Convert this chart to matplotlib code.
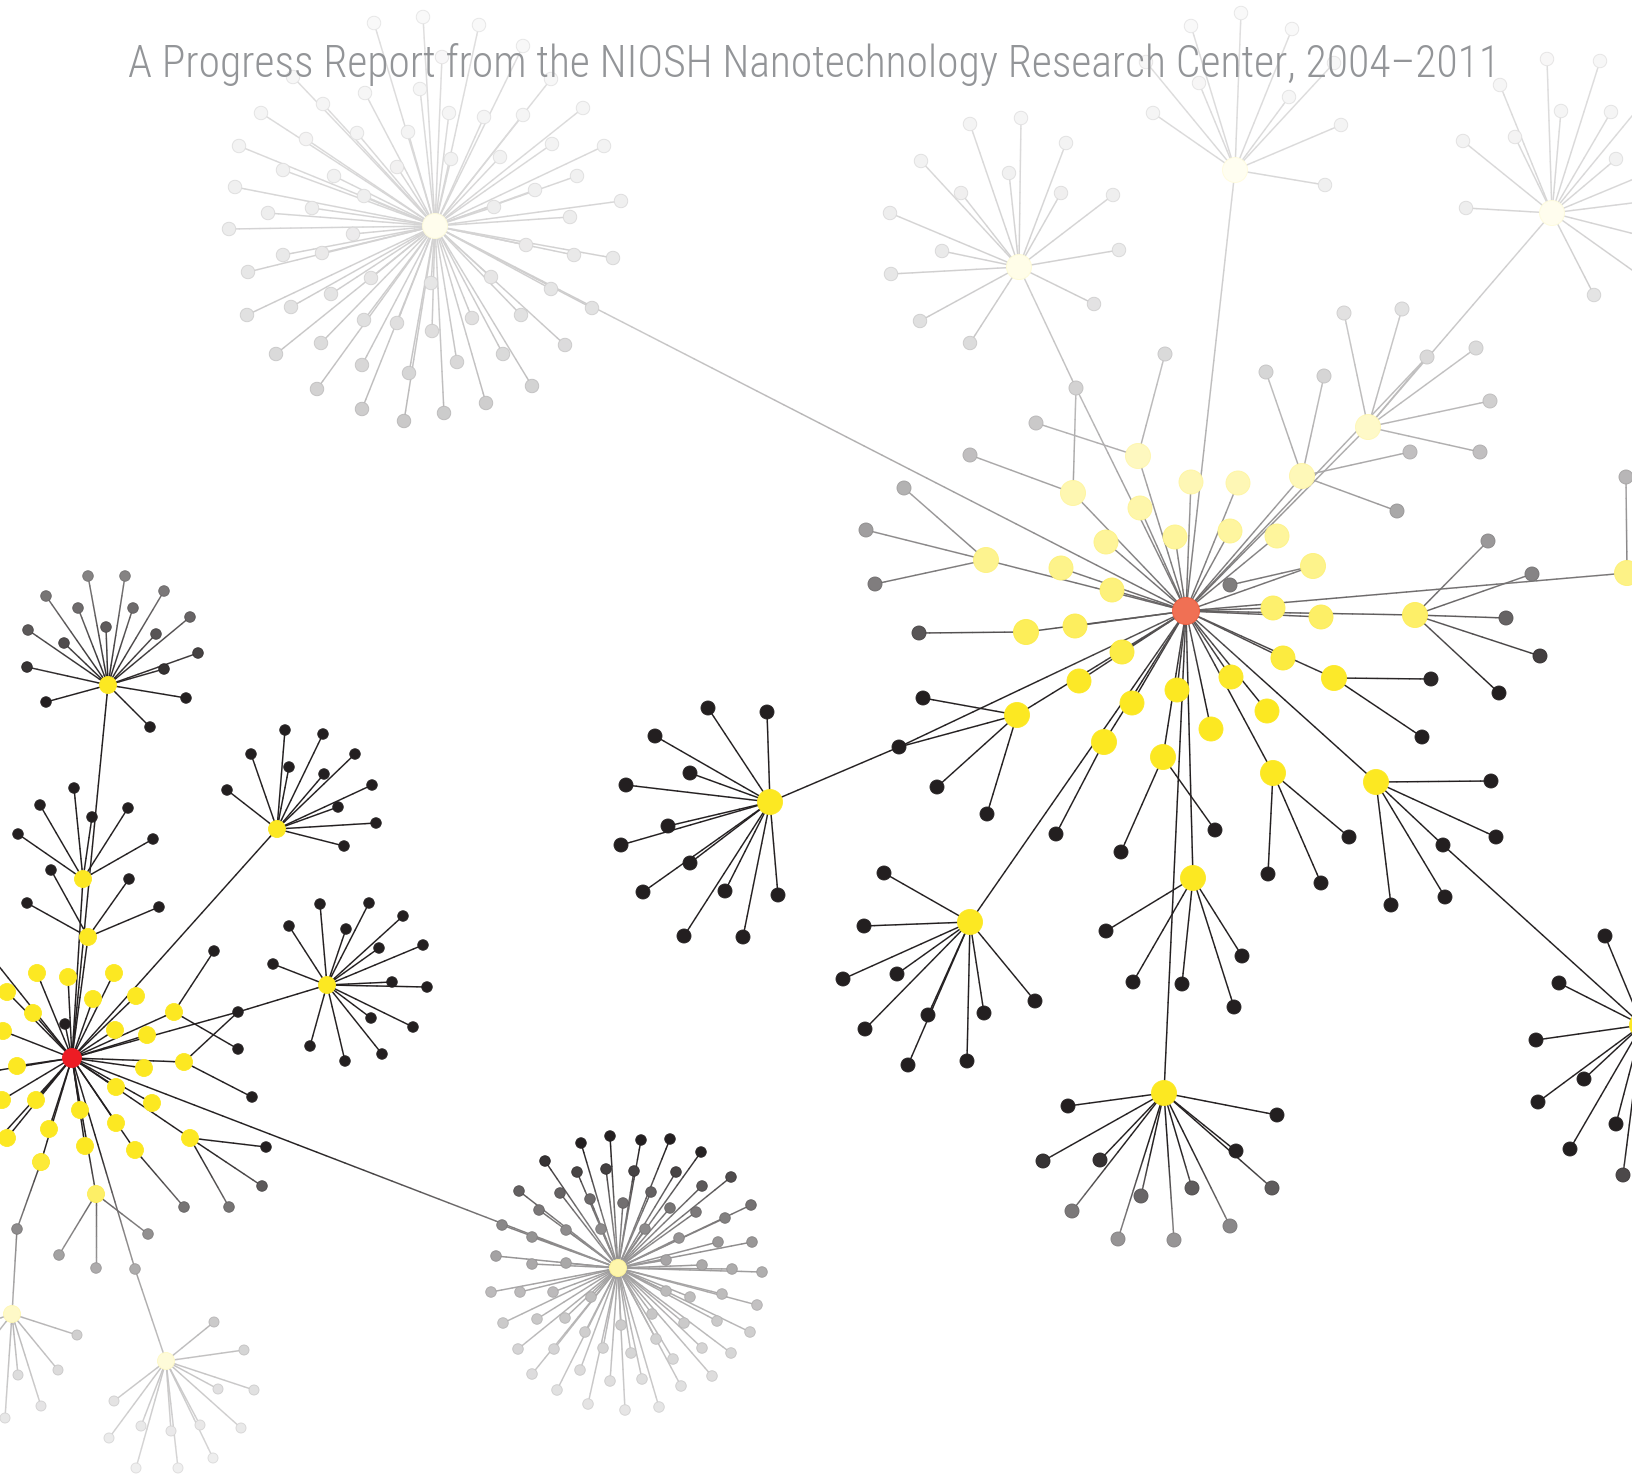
import numpy as np
import matplotlib
matplotlib.use("Agg")
import matplotlib.pyplot as plt
from matplotlib.collections import LineCollection
from matplotlib.colors import to_rgb

TITLE = "A Progress Report from the NIOSH Nanotechnology Research Center, 2004\u20132011"

# ---------------- data: node positions (px) ----------------
# top-left grey star
A_hub = (435, 226)
A_leaves = [(374,23),(423,17),(479,25),(523,46),(442,57),(551,79),(293,77),(365,93),(420,89),(323,104),
            (261,113),(449,113),(484,117),(523,115),(583,108),(357,133),(408,132),(306,139),(239,146),(552,144),
            (604,146),(451,159),(500,157),(397,167),(283,170),(334,176),(577,176),(235,187),(364,196),(535,190),
            (312,208),(494,207),(621,201),(268,213),(570,217),(229,229),(353,234),(283,255),(322,253),(526,245),
            (574,255),(613,258),(248,272),(371,278),(491,277),(431,283),(551,289),(592,308),(331,294),(291,307),
            (247,315),(521,315),(364,320),(397,323),(472,318),(432,331),(321,343),(565,345),(276,354),(503,354),
            (362,365),(457,362),(409,373),(532,386),(317,389),(486,403),(362,409),(444,413),(404,421)]
# top-middle star
B_hub = (1019, 267)
B_leaves = [(970,124),(1021,118),(1066,143),(921,161),(1009,173),(961,193),(1061,193),(1113,195),(890,213),
            (942,251),(1119,250),(891,274),(1094,304),(920,321),(970,343)]
# star behind the title
C_hub = (1235, 170)
C_leaves = [(1241,13),(1191,26),(1292,29),(1146,62),(1334,63),(1199,83),(1289,97),(1153,113),(1341,125),(1325,185)]
# top-right star (partly off the page)
D_hub = (1552, 213)
D_leaves = [(1547,59),(1600,61),(1500,85),(1561,111),(1611,112),(1515,137),(1463,141),(1616,159),(1466,208),
            (1594,295),(1655,88),(1670,164),(1680,197),(1670,243),(1660,290)]

# main right hub and its yellow leaves
H_hub = (1186, 611)
H_yellow = [(1191,482),(1238,483),(1140,508),(1230,531),(1175,537),(1277,536),(1106,542),(1061,568),(1112,590),
            (1273,608),(1321,617),(1075,626),(1122,652),(1079,681),(1177,690),(1231,677),(1283,658),(1132,703),
            (1267,711),(1211,729)]
G1 = (1076, 388)
N1 = (899, 747)
E_hub = (1368, 427)
E_leaves = [(1344,313),(1402,309),(1427,357),(1476,348),(1490,401),(1480,452)]
F_hub = (1302, 476)
F_leaves = [(1266,372),(1324,376),(1410,452),(1397,511)]
Y1 = (1138, 456);  Y1_leaves = [(1165,354),(1036,423)]
Y2 = (1073, 493);  Y2_leaves = [(970,455)]
Y3 = (986, 560);   Y3_leaves = [(904,488),(866,530),(875,584)]
Y4 = (1313, 566);  Y4_leaves = [(1230,585)]
Y5 = (1415, 615);  Y5_leaves = [(1488,541),(1532,574),(1506,618),(1540,656),(1499,693)]
Y6 = (1627, 573);  Y6_leaves = [(1626,477)]
Y7 = (1026, 632);  Y7_leaves = [(919,633)]
Y8 = (1017, 715);  Y8_leaves = [(923,698),(937,787),(987,814)]
Y9 = (1334, 678);  Y9_leaves = [(1431,679),(1422,737)]
Y10 = (970, 922);  Y10_leaves = [(884,873),(864,926),(843,979),(897,974),(865,1029),(928,1015),(908,1065),
                                 (967,1061),(984,1013),(1035,1001)]
Y11 = (1104, 742); Y11_leaves = [(1056,834)]
Y12 = (1163, 757); Y12_leaves = [(1121,852),(1215,830)]
Y13 = (1273, 773); Y13_leaves = [(1268,874),(1321,883),(1349,837)]
Y14 = (1376, 782); Y14_leaves = [(1491,781),(1496,837),(1443,845),(1445,897),(1391,905)]
Y15 = (1193, 878); Y15_leaves = [(1106,931),(1133,982),(1182,984),(1242,956),(1234,1007)]
Y16 = (1164, 1093); Y16_leaves = [(1068,1106),(1277,1115),(1043,1161),(1100,1160),(1236,1151),(1272,1188),
                                  (1192,1188),(1141,1196),(1072,1211),(1230,1226),(1118,1239),(1174,1240)]
K_hub = (770, 802)
K_leaves = [(708,708),(767,712),(655,736),(690,773),(626,785),(668,826),(621,845),(690,863),(643,892),
            (725,891),(778,895),(684,936),(743,937)]
Z_hub = (1642, 1025)
Z_leaves = [(1605,936),(1559,983),(1536,1040),(1538,1102),(1584,1079),(1616,1124),(1570,1149),(1623,1175)]

# left red hub
R_hub = (72, 1058)
R_yellow = [(37,973),(68,977),(114,973),(7,992),(93,999),(136,996),(33,1013),(3,1031),(115,1030),(147,1035),
            (17,1066),(144,1068),(2,1100),(36,1100),(116,1087),(152,1103),(7,1138),(49,1129),(80,1110),
            (116,1123),(85,1146)]
R_black = [(65,1024),(135,1269),(-30,930),(-30,1075),(-25,1165)]
N2 = (238, 1012)
S1 = (174, 1012); S1_leaves = [(238,1049),(214,951)]
S2 = (184, 1062); S2_leaves = [(252,1097)]
S3 = (135, 1150); S3_leaves = [(184,1207)]
S4 = (190, 1138); S4_leaves = [(266,1147),(262,1186),(229,1207)]
S5 = (41, 1162);  S5_leaves = [(17,1229)]
S6 = (96, 1194);  S6_leaves = [(59,1255),(96,1268),(148,1234)]
L1 = (108, 685); L1_leaves = [(88,576),(125,576),(46,596),(164,591),(78,608),(133,608),(28,630),(106,627),
                              (190,617),(64,643),(156,634),(27,667),(198,653),(164,669),(46,702),(186,698),(150,727)]
L2 = (83, 879);  L2_leaves = [(74,788),(40,805),(92,817),(128,808),(18,834),(153,839)]
L3 = (88, 937);  L3_leaves = [(51,870),(129,879),(27,903),(159,907)]
L4 = (277, 829); L4_leaves = [(285,730),(323,734),(251,754),(355,754),(289,767),(324,774),(227,790),(372,785),
                              (338,807),(376,823),(344,846)]
L5 = (327, 985); L5_leaves = [(320,904),(369,903),(289,926),(346,929),(403,916),(379,948),(273,964),(423,945),
                              (392,982),(427,987),(371,1018),(413,1027),(310,1046),(345,1061),(382,1054)]
L6 = (12, 1314); L6_leaves = [(77,1335),(58,1370),(18,1375),(41,1406),(5,1418),(-20,1325),(-20,1355)]
L7 = (166, 1361); L7_leaves = [(214,1322),(244,1350),(254,1390),(218,1389),(114,1401),(241,1428),(200,1425),
                               (171,1431),(141,1426),(109,1438),(213,1458),(136,1468),(178,1468)]
# bottom-middle star
M_hub = (618, 1268)
M_leaves = [(581,1143),(610,1136),(641,1140),(670,1139),(701,1152),(545,1161),(577,1172),(606,1169),(634,1171),
            (676,1172),(731,1177),(519,1191),(560,1193),(590,1199),(623,1203),(651,1192),(702,1186),(670,1208),
            (696,1212),(751,1205),(539,1210),(502,1225),(566,1230),(601,1229),(645,1229),(725,1218),(532,1237),
            (679,1238),(718,1242),(752,1242),(496,1256),(532,1264),(566,1263),(666,1260),(702,1265),(732,1269),
            (762,1272),(491,1292),(520,1292),(553,1292),(591,1297),(666,1291),(690,1297),(722,1294),(757,1305),
            (503,1323),(537,1319),(565,1318),(652,1314),(684,1323),(717,1321),(750,1332),(585,1332),(621,1325),
            (656,1339),(518,1349),(554,1349),(603,1348),(631,1353),(702,1348),(731,1353),(673,1359),(532,1374),
            (580,1370),(610,1381),(642,1379),(712,1376),(681,1386),(557,1390),(588,1404),(625,1410),(659,1407)]

# connections between clusters
links = [(A_hub, H_hub), (B_hub, G1), (G1, Y2), (G1, H_hub), (C_hub, H_hub), (D_hub, E_hub), (E_hub, H_hub),
         (E_leaves[2], H_hub), (F_hub, H_hub), (K_hub, N1), (N1, H_hub), (N1, Y8), (Y14_leaves[2], Z_hub),
         (L1, R_hub), (L2, R_hub), (L3, R_hub), (L4, R_hub), (N2, R_hub), (N2, L5), (N2, S2),
         (R_hub, M_hub), (S5_leaves[0], L6), (R_black[1], L7)]

# ---------------- styling ----------------
W, Hh = 1632, 1474
BLACK = np.array(to_rgb("#231f20"))
YELLOW = np.array(to_rgb("#fce822"))
RED = np.array(to_rgb("#ed1c24"))
ORANGE = np.array(to_rgb("#e92900"))


def fade_t(y):
    y = np.atleast_1d(np.asarray(y, float))
    t = np.zeros_like(y)
    up = y < 685
    t[up] = 1 - np.exp(-(685 - y[up]) / 185.0)
    dn = y > 1150
    t[dn] = 1 - np.exp(-(y[dn] - 1150) / 120.0)
    return t


def faded(base, t):
    return base[None, :] * (1 - t[:, None]) + t[:, None]


seg_list, seg_mid = [], []
nodes = []  # x, y, base, diameter


def add_edge(p, q):
    p = np.asarray(p, float); q = np.asarray(q, float)
    n = max(2, int(np.hypot(*(q - p)) / 10))
    pts = p + (q - p) * np.linspace(0, 1, n + 1)[:, None]
    for a, b in zip(pts[:-1], pts[1:]):
        seg_list.append([a, b])
        seg_mid.append((a[1] + b[1]) / 2)


def add_node(p, base, d):
    nodes.append((p[0], p[1], base, d))


def star(hub, leaves, base, d):
    for lf in leaves:
        add_edge(hub, lf)
        add_node(lf, base, d)


# grey stars at top
for hub, lv in [(A_hub, A_leaves), (B_hub, B_leaves), (C_hub, C_leaves), (D_hub, D_leaves)]:
    star(hub, lv, BLACK, 13.5)
    add_node(hub, YELLOW, 25)

# right network
star(H_hub, H_yellow, YELLOW, 24)
for sub, lv in [(Y1, Y1_leaves), (Y2, Y2_leaves), (Y3, Y3_leaves), (Y4, Y4_leaves), (Y5, Y5_leaves),
                (Y6, Y6_leaves), (Y7, Y7_leaves), (Y8, Y8_leaves), (Y9, Y9_leaves), (Y10, Y10_leaves),
                (Y11, Y11_leaves), (Y12, Y12_leaves), (Y13, Y13_leaves), (Y14, Y14_leaves), (Y15, Y15_leaves),
                (Y16, Y16_leaves)]:
    add_edge(H_hub, sub)
    star(sub, lv, BLACK, 14)
    add_node(sub, YELLOW, 25)
star(E_hub, E_leaves, BLACK, 14); add_node(E_hub, YELLOW, 25)
star(F_hub, F_leaves, BLACK, 14); add_node(F_hub, YELLOW, 25)
star(K_hub, K_leaves, BLACK, 14); add_node(K_hub, YELLOW, 25)
star(Z_hub, Z_leaves, BLACK, 14); add_node(Z_hub, YELLOW, 25)
add_node(G1, BLACK, 14); add_node(N1, BLACK, 14)
add_node(H_hub, ORANGE, 27)

# left network
star(R_hub, R_yellow, YELLOW, 17)
star(R_hub, R_black, BLACK, 10.5)
for sub, lv in [(S1, S1_leaves), (S2, S2_leaves), (S3, S3_leaves), (S4, S4_leaves), (S5, S5_leaves),
                (S6, S6_leaves)]:
    add_edge(R_hub, sub)
    star(sub, lv, BLACK, 10.5)
    add_node(sub, YELLOW, 17)
for sub, lv in [(L1, L1_leaves), (L2, L2_leaves), (L3, L3_leaves), (L4, L4_leaves), (L5, L5_leaves)]:
    star(sub, lv, BLACK, 10.5)
    add_node(sub, YELLOW, 17)
add_node(N2, BLACK, 10.5)
add_node(R_hub, RED, 19)
for sub, lv in [(L6, L6_leaves), (L7, L7_leaves)]:
    star(sub, lv, BLACK, 10)
    add_node(sub, YELLOW, 17)
star(M_hub, M_leaves, BLACK, 10.5)
add_node(M_hub, YELLOW, 17)

for p, q in links:
    add_edge(p, q)

# ---------------- draw ----------------
fig = plt.figure(figsize=(W / 100, Hh / 100), dpi=100, facecolor="white")
ax = fig.add_axes([0, 0, 1, 1])
ax.set_xlim(0, W)
ax.set_ylim(Hh, 0)
ax.axis("off")

seg_cols = faded(BLACK, 0.88 * fade_t(seg_mid))
lc = LineCollection(seg_list, colors=seg_cols, linewidths=1.05, capstyle="round", zorder=1)
ax.add_collection(lc)

nodes.sort(key=lambda n: n[3])
nx = np.array([n[0] for n in nodes]); ny = np.array([n[1] for n in nodes])
t = fade_t(ny)
te = np.clip(t - 0.09, 0, 1)
face = np.array([n[2] * (1 - tt) + tt for n, tt in zip(nodes, t)])
edge = np.array([n[2] * (1 - tt) + tt for n, tt in zip(nodes, te)])
sizes = np.array([(n[3] * 0.72) ** 2 for n in nodes])
ax.scatter(nx, ny, s=sizes, c=face, edgecolors=edge, linewidths=0.6, zorder=2)

fam = ["Roboto Condensed", "Barlow Semi Condensed", "Fira Sans Condensed", "Roboto", "DejaVu Sans"]
txt = ax.text(814, 76.5, TITLE, ha="center", va="baseline", color="#939598", fontsize=36,
              family=fam, fontweight="light", zorder=10)
fig.canvas.draw()
bb = txt.get_window_extent()
txt.set_fontsize(36 * 1370 / bb.width)

fig.savefig("out.png", dpi=100, facecolor="white")
